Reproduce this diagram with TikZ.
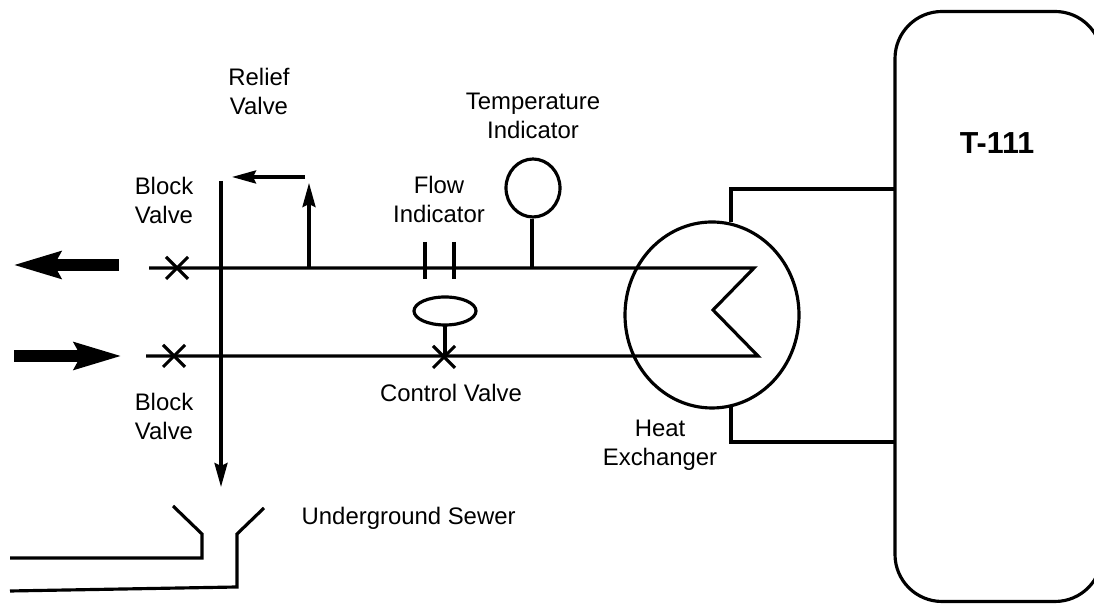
\documentclass[tikz,border=0pt]{standalone}
\usepackage{fontspec}
\setmainfont{Liberation Sans}
\usetikzlibrary{arrows.meta}
\usetikzlibrary{shapes.geometric}
\usetikzlibrary{shapes.misc}

\tikzset{
    pipe/.style={line width=0.9pt, line join=miter},
    flow/.style={line width=0.115cm, -{Stealth[length=0.47cm, width=0.26cm, inset=0.06cm]}},
    thin flow/.style={line width=0.9pt, -{Stealth[length=0.24cm, width=0.13cm, inset=0.03cm]}},
    valve/.style={draw, cross out, line width=0.9pt, inner sep=0pt, outer sep=0pt, minimum size=0.22cm},
    vessel/.style={draw, line width=0.9pt, inner sep=0pt, outer sep=0pt},
    label/.style={align=center, inner sep=0pt, font=\fontsize{6.8}{8.25}\selectfont},
}

\begin{document}
\begin{tikzpicture}
        \useasboundingbox (0, 0) rectangle (10.94, 6.04);

        \node[vessel, rounded corners=0.47cm, minimum width=2.07cm, minimum height=5.9cm] (tank) at (9.985, 2.975) {};
        \node[vessel, ellipse, minimum width=1.74cm, minimum height=1.86cm] (exchanger) at (7.12, 2.89) {};
        \node[vessel, ellipse, minimum width=0.54cm, minimum height=0.58cm] (tempind) at (5.33, 4.16) {};
        \node[vessel, ellipse, minimum width=0.62cm, minimum height=0.28cm] (actuator) at (4.45, 2.93) {};
        \node[valve] (blocktop) at (1.77, 3.36) {};
        \node[valve] (blockbot) at (1.74, 2.48) {};
        \node[valve] (control) at (4.44, 2.47) {};

        \node[label] (relief) at (2.59, 5.13) {Relief\\Valve};
        \node[label] (temp) at (5.33, 4.88) {Temperature\\Indicator};
        \node[label] (blocklabeltop) at (1.64, 4.04) {Block\\Valve};
        \node[label] (flowlabel) at (4.39, 4.05) {Flow\\Indicator};
        \node[label] (blocklabelbot) at (1.64, 1.88) {Block\\Valve};
        \node[label] (controllabel) at (4.51, 2.115) {Control Valve};
        \node[label] (heat) at (6.60, 1.585) {Heat\\Exchanger};
        \node[label, anchor=west] (sewer) at (3.01, 0.86) {Underground Sewer};
        \node[font=\fontsize{8.65}{10}\selectfont\bfseries, inner sep=0pt] (tag) at (9.97, 4.61) {T-111};

        \coordinate (outtail) at (1.19, 3.39);
        \coordinate (outtip) at (0.13, 3.39);
        \coordinate (intail) at (0.14, 2.48);
        \coordinate (intip) at (1.22, 2.48);
        \draw[flow] (outtail) -- (outtip);
        \draw[flow] (intail) -- (intip);

        \coordinate (topstart) at (1.49, 3.36);
        \coordinate (topend) at (7.54, 3.36);
        \coordinate (bend) at (7.13, 2.94);
        \coordinate (botend) at (7.58, 2.48);
        \coordinate (botstart) at (1.46, 2.48);
        \draw[pipe] (topstart) -- (topend) -- (bend) -- (botend) -- (botstart);

        \coordinate (draintop) at (2.21, 4.23);
        \coordinate (draintip) at (2.21, 1.17);
        \draw[thin flow] (draintop) -- (draintip);

        \coordinate (relieftap) at (3.09, 3.36);
        \coordinate (relieftip) at (3.09, 4.21);
        \coordinate (ventstart) at (3.05, 4.27);
        \coordinate (venttip) at (2.32, 4.27);
        \draw[thin flow] (relieftap) -- (relieftip);
        \draw[thin flow] (ventstart) -- (venttip);

        \coordinate (fa) at (4.25, 3.62);
        \coordinate (fb) at (4.25, 3.25);
        \coordinate (fc) at (4.54, 3.62);
        \coordinate (fd) at (4.54, 3.25);
        \draw[pipe] (fa) -- (fb);
        \draw[pipe] (fc) -- (fd);

        \coordinate (tempstem) at (5.32, 3.85);
        \coordinate (temptap) at (5.32, 3.36);
        \draw[pipe] (tempstem) -- (temptap);
        \draw[pipe] (actuator.south) -- (actuator.south |- control.center);

        \coordinate (hxupper) at (7.31, 3.82);
        \coordinate (hxupperbend) at (7.31, 4.15);
        \coordinate (hxlower) at (7.31, 1.97);
        \coordinate (hxlowerbend) at (7.31, 1.62);
        \draw[pipe] (hxupper) -- (hxupperbend) -- (hxupperbend -| tank.west);
        \draw[pipe] (hxlower) -- (hxlowerbend) -- (hxlowerbend -| tank.west);

        \coordinate (sa) at (1.73, 0.98);
        \coordinate (sb) at (2.02, 0.70);
        \coordinate (sc) at (2.02, 0.46);
        \coordinate (sd) at (0.10, 0.46);
        \draw[pipe] (sa) -- (sb) -- (sc) -- (sd);

        \coordinate (se) at (2.64, 0.96);
        \coordinate (sf) at (2.37, 0.70);
        \coordinate (sg) at (2.37, 0.17);
        \coordinate (sh) at (0.10, 0.13);
        \draw[pipe] (se) -- (sf) -- (sg) -- (sh);
    \end{tikzpicture}
\end{document}
